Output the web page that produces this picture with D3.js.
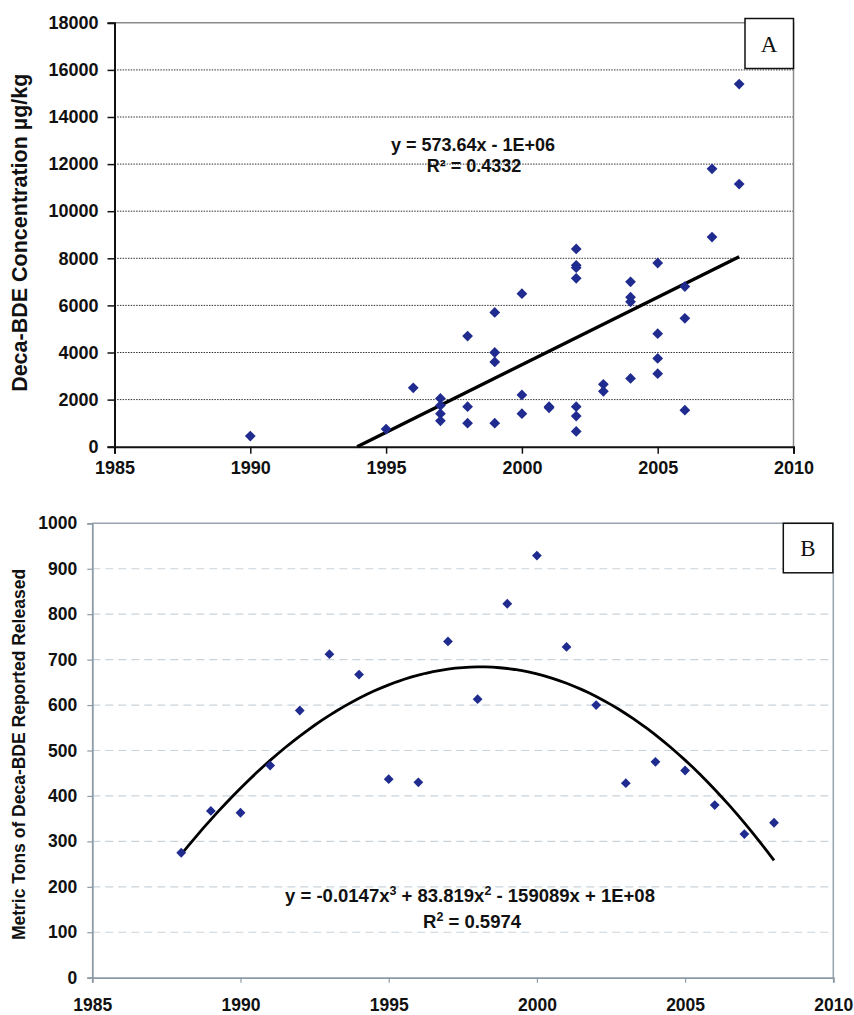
<!DOCTYPE html>
<html>
<head>
<meta charset="utf-8">
<script src="https://cdn.jsdelivr.net/npm/d3@7"></script>
<style>
  body { margin: 0; background: #fff; }
  text { font-family: "Liberation Sans", Arial, sans-serif; font-weight: bold; fill: #111; }
  .panel-label { font-family: "Liberation Serif", "Times New Roman", serif; font-weight: normal; }
</style>
</head>
<body>
<svg id="chart" width="854" height="1015"></svg>
<script>
// Panel A - Deca-BDE concentration samples (year, ug/kg)
var yearsA = [1990, 1995, 1996,
  1997, 1997, 1997, 1997,
  1998, 1998, 1998,
  1999, 1999, 1999, 1999,
  2000, 2000, 2000,
  2001, 2001,
  2002, 2002, 2002, 2002, 2002, 2002, 2002,
  2003, 2003,
  2004, 2004, 2004, 2004,
  2005, 2005, 2005, 2005,
  2006, 2006, 2006,
  2007, 2007,
  2008, 2008];
var concA = [450, 750, 2500,
  2050, 1750, 1400, 1100,
  4700, 1700, 1000,
  5700, 4000, 3600, 1000,
  6500, 2200, 1400,
  1700, 1650,
  8400, 7700, 7600, 7150, 1700, 1300, 650,
  2650, 2350,
  7000, 6350, 6150, 2900,
  7800, 4800, 3750, 3100,
  6800, 5450, 1550,
  11800, 8900,
  15400, 11150];
// linear trend as printed: slope, intercept
var trendA = [573.64, -1143800];

// Panel B - reported releases (metric tons)
var yearsB = [1988, 1989, 1990, 1991, 1992, 1993, 1994, 1995, 1996, 1997, 1998,
  1999, 2000, 2001, 2002, 2003, 2004, 2005, 2006, 2007, 2008];
var tonsB = [275, 367, 363, 467, 588, 712, 667, 437, 430, 740, 613,
  823, 929, 728, 600, 428, 475, 456, 380, 316, 341];

var xTicks = [1985, 1990, 1995, 2000, 2005, 2010];
var yTicksA = d3.range(0, 18001, 2000);
var yTicksB = d3.range(0, 1001, 100);

var svg = d3.select("#chart");
var navy = "#1f2b8e";
var fmt = d3.format("d");

function diamond(g, xs, ys, sx, sy, size) {
  g.selectAll(null)
    .data(xs.map(function(d, i) { return [d, ys[i]]; }))
    .enter()
    .append("path")
      .attr("d", d3.symbol(d3.symbolSquare, size))
      .attr("transform", function(d) {
        return "translate(" + sx(d[0]) + "," + sy(d[1]) + ") rotate(45)";
      })
      .attr("fill", navy);
}

// ================= Panel A =================
var xA = d3.scaleLinear().domain([1985, 2010]).range([114.5, 793.5]);
var yA = d3.scaleLinear().domain([0, 18000]).range([446.7, 22.8]);
var gA = svg.append("g");

// grid
gA.selectAll(".gridA")
  .data(yTicksA.filter(function(d) { return d > 0 && d < 18000; }))
  .enter()
  .append("line")
    .attr("x1", xA(1985)).attr("x2", xA(2010))
    .attr("y1", function(d) { return yA(d); })
    .attr("y2", function(d) { return yA(d); })
    .attr("stroke", "#333")
    .attr("stroke-width", 1)
    .attr("stroke-dasharray", "1.5,1.2");

// frame top/right
gA.append("path")
  .attr("d", "M" + xA(1985) + "," + yA(18000) + "H" + xA(2010) + "V" + yA(0))
  .attr("fill", "none").attr("stroke", "#8a8a8a").attr("stroke-width", 1.5);

var axA_y = gA.append("g")
  .attr("transform", "translate(" + xA(1985) + ",0)")
  .call(d3.axisLeft(yA).tickValues(yTicksA).tickFormat(fmt).tickSize(7).tickPadding(9));
var axA_x = gA.append("g")
  .attr("transform", "translate(0," + yA(0) + ")")
  .call(d3.axisBottom(xA).tickValues(xTicks).tickFormat(fmt).tickSize(7).tickPadding(8));
[axA_y, axA_x].forEach(function(ax) {
  ax.select(".domain").attr("stroke", "#111").attr("stroke-width", 2);
  ax.selectAll(".tick line").attr("stroke", "#111").attr("stroke-width", 1.5);
  ax.selectAll("text").attr("font-size", 18).attr("fill", "#111")
    .attr("font-family", "Liberation Sans, Arial, sans-serif").attr("font-weight", "bold");
});

gA.append("text")
  .attr("transform", "translate(27," + ((yA(0) + yA(18000)) / 2 - 2) + ") rotate(-90)")
  .attr("text-anchor", "middle")
  .attr("font-size", 21.5)
  .text("Deca-BDE Concentration µg/kg");

// trend line, from y = 0 up to last year
var x0A = -trendA[1] / trendA[0];
gA.append("path")
  .datum([x0A, d3.max(yearsA)])
  .attr("d", d3.line()
    .x(function(d) { return xA(d); })
    .y(function(d) { return yA(trendA[0] * d + trendA[1]); }))
  .attr("stroke", "#000").attr("stroke-width", 3.4).attr("fill", "none");

diamond(gA, yearsA, concA, xA, yA, 58);

var eqA = gA.append("text").attr("text-anchor", "middle").attr("font-size", 18);
eqA.append("tspan").attr("x", 473).attr("y", 151).text("y = 573.64x - 1E+06");
eqA.append("tspan").attr("x", 474).attr("y", 172).text("R² = 0.4332");

gA.append("rect")
  .attr("x", 745).attr("y", 18.5).attr("width", 48.5).attr("height", 50)
  .attr("fill", "#fff").attr("stroke", "#111").attr("stroke-width", 1.5);
gA.append("text").attr("class", "panel-label")
  .attr("x", 769).attr("y", 52).attr("text-anchor", "middle").attr("font-size", 23)
  .text("A");

// ================= Panel B =================
var xB = d3.scaleLinear().domain([1985, 2010]).range([92.3, 833.3]);
var yB = d3.scaleLinear().domain([0, 1000]).range([977.7, 523.3]);
var gB = svg.append("g");

gB.selectAll(".gridB")
  .data(yTicksB.filter(function(d) { return d > 0 && d < 1000; }))
  .enter()
  .append("line")
    .attr("x1", xB(1985)).attr("x2", xB(2010))
    .attr("y1", function(d) { return yB(d); })
    .attr("y2", function(d) { return yB(d); })
    .attr("stroke", "#c9d3db")
    .attr("stroke-width", 1.2)
    .attr("stroke-dasharray", "8,5");

gB.append("path")
  .attr("d", "M" + xB(1985) + "," + yB(1000) + "H" + xB(2010) + "V" + yB(0))
  .attr("fill", "none").attr("stroke", "#98a4ad").attr("stroke-width", 1.5);

var axB_y = gB.append("g")
  .attr("transform", "translate(" + xB(1985) + ",0)")
  .call(d3.axisLeft(yB).tickValues(yTicksB).tickFormat(fmt).tickSize(5).tickPadding(10));
var axB_x = gB.append("g")
  .attr("transform", "translate(0," + yB(0) + ")")
  .call(d3.axisBottom(xB).tickValues(xTicks).tickFormat(fmt).tickSize(5).tickPadding(16));
[axB_y, axB_x].forEach(function(ax) {
  ax.select(".domain").attr("stroke", "#8c9aa5").attr("stroke-width", 1.8);
  ax.selectAll(".tick line").attr("stroke", "#8c9aa5").attr("stroke-width", 1.2);
  ax.selectAll("text").attr("font-size", 17.5).attr("fill", "#111")
    .attr("font-family", "Liberation Sans, Arial, sans-serif").attr("font-weight", "bold");
});

gB.append("text")
  .attr("transform", "translate(25," + ((yB(0) + yB(1000)) / 2 + 4) + ") rotate(-90)")
  .attr("text-anchor", "middle")
  .attr("font-size", 17.5)
  .text("Metric Tons of Deca-BDE Reported Released");

// cubic least squares trend (x centred on 1998 for stability)
function polyFit(xs, ys, deg, c) {
  var n = deg + 1, A = [], i, j, k;
  for (i = 0; i < n; i++) {
    A.push([]);
    for (j = 0; j <= n; j++) A[i].push(0);
  }
  xs.forEach(function(x, p) {
    var t = x - c;
    for (i = 0; i < n; i++) {
      for (j = 0; j < n; j++) A[i][j] += Math.pow(t, i + j);
      A[i][n] += ys[p] * Math.pow(t, i);
    }
  });
  for (i = 0; i < n; i++) {
    for (k = i + 1; k < n; k++) {
      var f = A[k][i] / A[i][i];
      for (j = i; j <= n; j++) A[k][j] -= f * A[i][j];
    }
  }
  var coef = new Array(n);
  for (i = n - 1; i >= 0; i--) {
    var s = A[i][n];
    for (j = i + 1; j < n; j++) s -= A[i][j] * coef[j];
    coef[i] = s / A[i][i];
  }
  return function(x) {
    var t = x - c, v = 0;
    for (var q = 0; q < n; q++) v += coef[q] * Math.pow(t, q);
    return v;
  };
}
var fitB = polyFit(yearsB, tonsB, 3, 1998);
var curveX = d3.range(d3.min(yearsB), d3.max(yearsB) + 0.001, 0.25);
gB.append("path")
  .datum(curveX)
  .attr("d", d3.line()
    .x(function(d) { return xB(d); })
    .y(function(d) { return yB(fitB(d)); }))
  .attr("stroke", "#000").attr("stroke-width", 2.8).attr("fill", "none");

diamond(gB, yearsB, tonsB, xB, yB, 48);

var eqB = gB.append("text").attr("text-anchor", "middle").attr("font-size", 18.5);
var l1 = eqB.append("tspan").attr("x", 470).attr("y", 902);
l1.append("tspan").text("y = -0.0147x");
l1.append("tspan").attr("dy", -7).attr("font-size", 12.5).text("3");
l1.append("tspan").attr("dy", 7).text(" + 83.819x");
l1.append("tspan").attr("dy", -7).attr("font-size", 12.5).text("2");
l1.append("tspan").attr("dy", 7).text(" - 159089x + 1E+08");
var l2 = gB.append("text").attr("text-anchor", "middle").attr("font-size", 18.5)
  .attr("x", 472).attr("y", 928);
l2.append("tspan").text("R");
l2.append("tspan").attr("dy", -7).attr("font-size", 12.5).text("2");
l2.append("tspan").attr("dy", 7).text(" = 0.5974");

gB.append("rect")
  .attr("x", 783.3).attr("y", 523.3).attr("width", 49.5).attr("height", 49.5)
  .attr("fill", "#fff").attr("stroke", "#111").attr("stroke-width", 1.5);
gB.append("text").attr("class", "panel-label")
  .attr("x", 808).attr("y", 556).attr("text-anchor", "middle").attr("font-size", 23)
  .text("B");
</script>
</body>
</html>
